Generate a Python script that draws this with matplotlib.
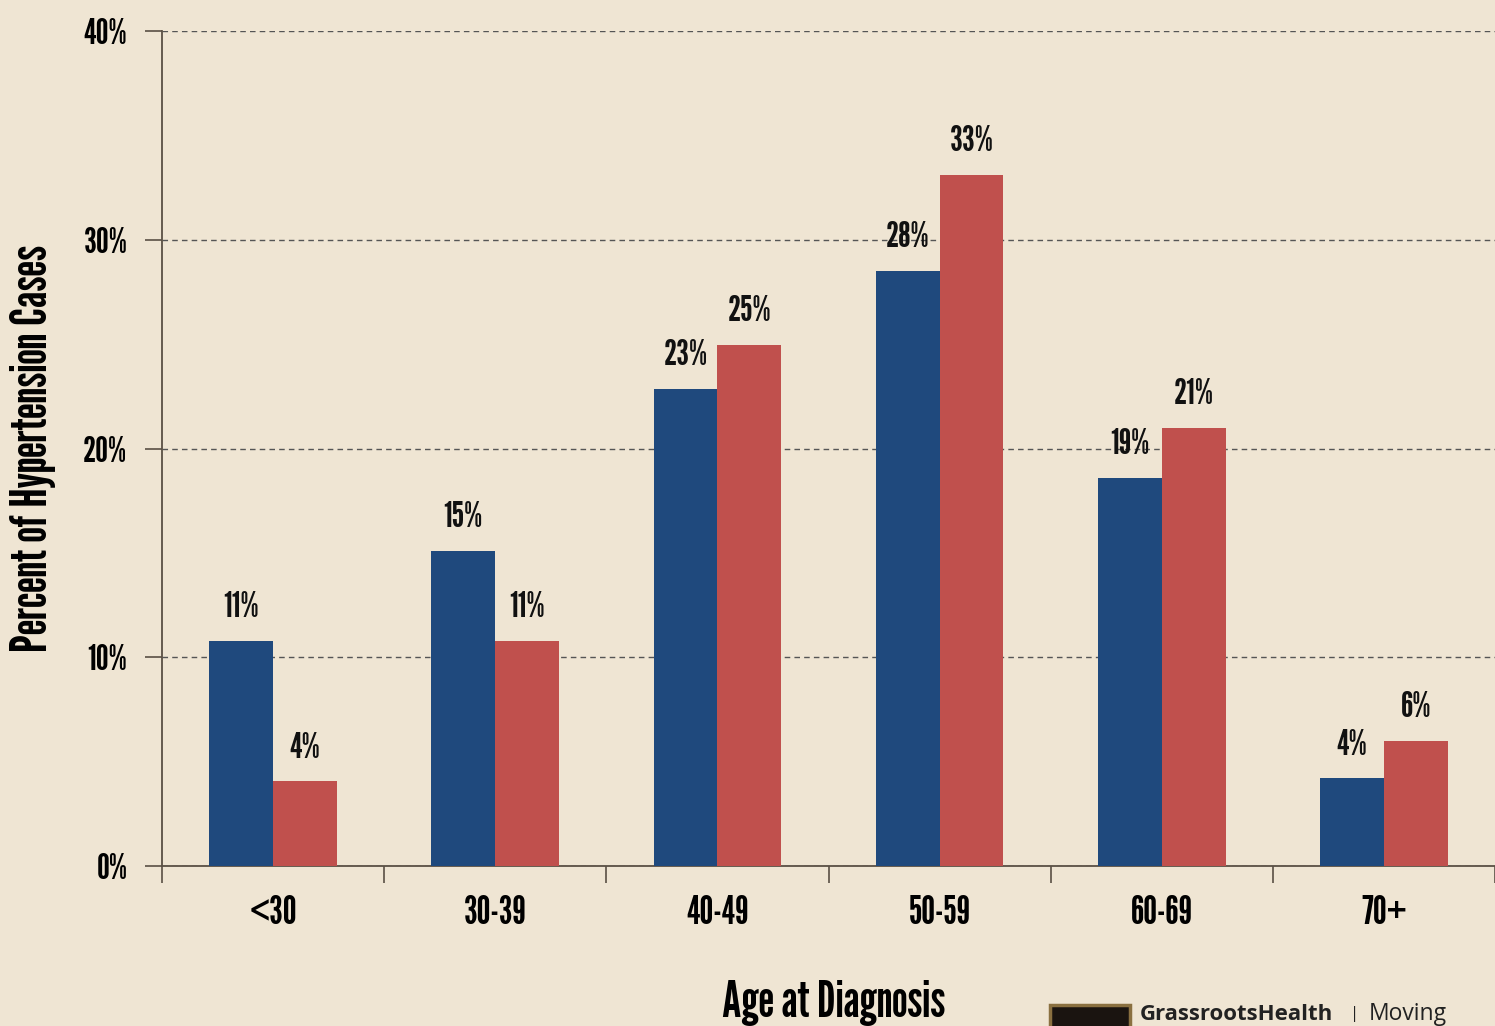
import matplotlib
matplotlib.use("Agg")
import matplotlib.pyplot as plt
from matplotlib.patches import Rectangle
from matplotlib import font_manager as fm
import numpy as np

categories = ["<30", "30-39", "40-49", "50-59", "60-69", "70+"]
blue_values = [10.8, 15.1, 22.85, 28.5, 18.6, 4.2]
red_values = [4.05, 10.8, 24.95, 33.1, 21.0, 6.0]
blue_labels = ["11%", "15%", "23%", "28%", "19%", "4%"]
red_labels = ["4%", "11%", "25%", "33%", "21%", "6%"]
y_ticks = [0, 10, 20, 30, 40]
y_tick_labels = ["0%", "10%", "20%", "30%", "40%"]

BG = "#EFE5D3"
BLUE = "#1F497D"
RED = "#C0504D"

available = {f.name for f in fm.fontManager.ttflist}
chosen = "DejaVu Sans"
for cand in ["League Gothic", "Oswald", "Fjalla One", "Antonio", "Pathway Gothic One"]:
    if cand in available:
        chosen = cand
        break
FONT = [chosen, "DejaVu Sans"]

fig = plt.figure(figsize=(14.95, 10.26), dpi=100, facecolor=BG)
ax = fig.add_axes([162/1495, 1-866/1026, 1-162/1495, (866-31)/1026])
ax.set_facecolor(BG)

x = np.arange(len(categories)) + 0.5
w = 0.287
ax.bar(x - w/2, blue_values, width=w, color=BLUE, zorder=3)
ax.bar(x + w/2, red_values, width=w, color=RED, zorder=3)

for xi, v, lab in zip(x, blue_values, blue_labels):
    ax.text(xi - w/2, v + 0.8, lab, ha="center", va="bottom", fontsize=26,
            family=FONT, color="#111111", zorder=4)
for xi, v, lab in zip(x, red_values, red_labels):
    ax.text(xi + w/2, v + 0.8, lab, ha="center", va="bottom", fontsize=26,
            family=FONT, color="#111111", zorder=4)

ax.set_xlim(0, 6)
ax.set_ylim(0, 40)
ax.set_yticks(y_ticks)
ax.set_yticklabels(y_tick_labels, family=FONT, fontsize=26)
ax.set_xticks(np.arange(0, 7))
ax.set_xticklabels([])
ax.set_xticks(x, minor=True)
ax.set_xticklabels(categories, minor=True, family=FONT, fontsize=28)
ax.tick_params(axis="x", which="minor", length=0, pad=21)
ax.tick_params(axis="x", which="major", length=12, width=1.2, color="#5a5045", direction="out")
ax.tick_params(axis="y", length=12, width=1.2, color="#5a5045", pad=13)

for s in ["top", "right"]:
    ax.spines[s].set_visible(False)
for s in ["left", "bottom"]:
    ax.spines[s].set_color("#5a5045")
    ax.spines[s].set_linewidth(1.3)

ax.yaxis.grid(True, linestyle=(0, (4, 3)), color="#555555", linewidth=1.0, zorder=0)
ax.set_axisbelow(True)

fig.text(33/1495, 1-448/1026, "Percent of Hypertension Cases", ha="center", va="center",
         rotation=90, family=FONT, fontsize=36.5)
fig.text(834/1495, 1-1003/1026, "Age at Diagnosis", ha="center", va="center",
         family=FONT, fontsize=36)

# logo (cut off at bottom)
fig.patches.append(Rectangle((1050/1495, -0.005), 80/1495, 26/1026, transform=fig.transFigure,
                             facecolor="#1a1410", edgecolor="#8a7040", linewidth=2.5))
fig.text(1140/1495, 1-1014/1026, "GrassrootsHealth", ha="left", va="center",
         family=["Open Sans", "DejaVu Sans"], fontsize=16, fontweight="bold", color="#222222")
fig.text(1350/1495, 1-1014/1026, "|", ha="left", va="center",
         family=["Open Sans", "DejaVu Sans"], fontsize=12, color="#222222")
fig.text(1369/1495, 1-1014/1026, "Moving", ha="left", va="center",
         family=["Open Sans", "DejaVu Sans"], fontsize=16.5, color="#222222")

fig.savefig("out.png", dpi=100, facecolor=BG)
